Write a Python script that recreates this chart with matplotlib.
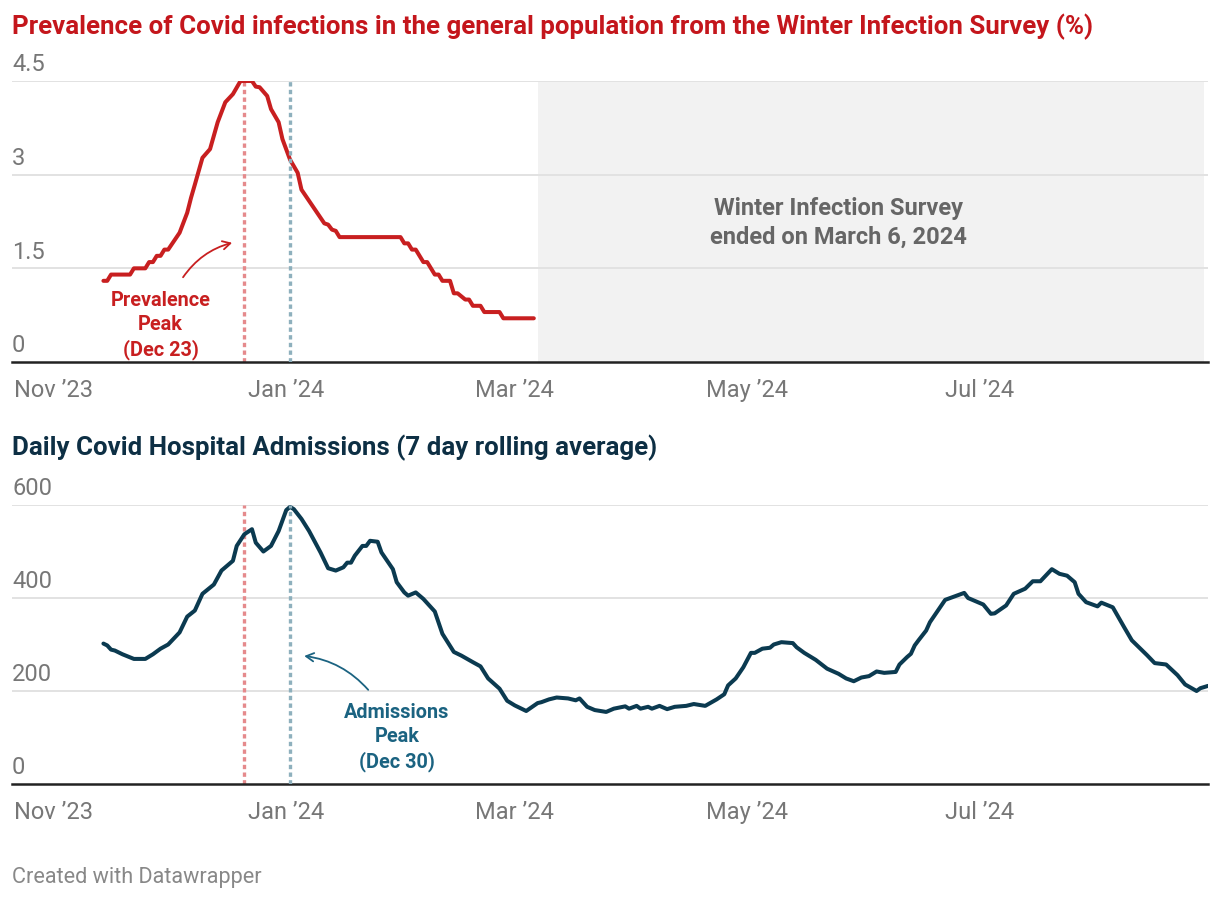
import pandas as pd
import matplotlib
matplotlib.use("Agg")
import matplotlib.pyplot as plt

plt.rcParams['font.family'] = ['Roboto', 'DejaVu Sans']

# Winter Infection Survey prevalence (%)
prev_dates = ["2023-11-14", "2023-11-15", "2023-11-16", "2023-11-21", "2023-11-22", "2023-11-25",
              "2023-11-26", "2023-11-27", "2023-11-28", "2023-11-29", "2023-11-30", "2023-12-01",
              "2023-12-04", "2023-12-06", "2023-12-07", "2023-12-08", "2023-12-10", "2023-12-12",
              "2023-12-14", "2023-12-16", "2023-12-18", "2023-12-20", "2023-12-23", "2023-12-24",
              "2023-12-25", "2023-12-27", "2023-12-28", "2023-12-30", "2023-12-31", "2024-01-02",
              "2024-01-04", "2024-01-05", "2024-01-11", "2024-01-12", "2024-01-13", "2024-01-14",
              "2024-01-15", "2024-01-31", "2024-02-01", "2024-02-02", "2024-02-03", "2024-02-04",
              "2024-02-06", "2024-02-07", "2024-02-09", "2024-02-10", "2024-02-11", "2024-02-13",
              "2024-02-14", "2024-02-15", "2024-02-17", "2024-02-18", "2024-02-19", "2024-02-21",
              "2024-02-22", "2024-02-26", "2024-02-27", "2024-03-06"]
prev_values = [1.3, 1.3, 1.4, 1.4, 1.5, 1.5, 1.6, 1.6, 1.7, 1.7, 1.8, 1.8,
               2.07, 2.39, 2.63, 2.84, 3.27, 3.41, 3.84, 4.16, 4.29, 4.5, 4.5, 4.41,
               4.4, 4.26, 4.05, 3.84, 3.57, 3.24, 3.03, 2.76, 2.22, 2.2, 2.12, 2.1,
               2.0, 2.0, 1.9, 1.9, 1.8, 1.8, 1.6, 1.6, 1.4, 1.4, 1.3, 1.3,
               1.1, 1.1, 1.0, 1.0, 0.9, 0.9, 0.8, 0.8, 0.7, 0.7]

# Daily hospital admissions, 7 day rolling average
adm_dates = ["2023-11-14", "2023-11-15", "2023-11-16", "2023-11-17", "2023-11-19", "2023-11-22",
             "2023-11-25", "2023-11-27", "2023-11-29", "2023-12-01", "2023-12-04", "2023-12-06",
             "2023-12-08", "2023-12-10", "2023-12-13", "2023-12-15", "2023-12-18", "2023-12-19",
             "2023-12-21", "2023-12-23", "2023-12-24", "2023-12-26", "2023-12-28", "2023-12-30",
             "2024-01-01", "2024-01-02", "2024-01-03", "2024-01-05", "2024-01-07", "2024-01-10",
             "2024-01-12", "2024-01-14", "2024-01-16", "2024-01-17", "2024-01-18", "2024-01-19",
             "2024-01-21", "2024-01-22", "2024-01-23", "2024-01-25", "2024-01-26", "2024-01-29",
             "2024-01-30", "2024-02-01", "2024-02-02", "2024-02-04", "2024-02-06", "2024-02-09",
             "2024-02-11", "2024-02-14", "2024-02-16", "2024-02-19", "2024-02-21", "2024-02-23",
             "2024-02-26", "2024-02-28", "2024-03-01", "2024-03-04", "2024-03-07", "2024-03-08",
             "2024-03-10", "2024-03-12", "2024-03-15", "2024-03-17", "2024-03-18", "2024-03-20",
             "2024-03-22", "2024-03-25", "2024-03-27", "2024-03-30", "2024-03-31", "2024-04-02",
             "2024-04-03", "2024-04-05", "2024-04-06", "2024-04-08", "2024-04-10", "2024-04-12",
             "2024-04-15", "2024-04-17", "2024-04-20", "2024-04-23", "2024-04-25", "2024-04-26",
             "2024-04-28", "2024-04-30", "2024-05-02", "2024-05-03", "2024-05-05", "2024-05-07",
             "2024-05-08", "2024-05-10", "2024-05-13", "2024-05-14", "2024-05-16", "2024-05-19",
             "2024-05-22", "2024-05-25", "2024-05-27", "2024-05-29", "2024-05-31", "2024-06-02",
             "2024-06-04", "2024-06-06", "2024-06-09", "2024-06-10", "2024-06-12", "2024-06-13",
             "2024-06-14", "2024-06-15", "2024-06-17", "2024-06-18", "2024-06-21", "2024-06-22",
             "2024-06-25", "2024-06-27", "2024-06-28", "2024-07-02", "2024-07-04", "2024-07-05",
             "2024-07-08", "2024-07-10", "2024-07-13", "2024-07-15", "2024-07-17", "2024-07-20",
             "2024-07-22", "2024-07-24", "2024-07-26", "2024-07-27", "2024-07-29", "2024-08-01",
             "2024-08-02", "2024-08-05", "2024-08-08", "2024-08-10", "2024-08-14", "2024-08-16",
             "2024-08-19", "2024-08-22", "2024-08-24", "2024-08-27", "2024-08-28", "2024-08-30"]
adm_values = [302, 298, 289, 287, 279, 269, 269, 279, 291, 300, 326, 360,
              373, 409, 429, 459, 480, 512, 537, 548, 519, 500, 512, 544,
              589, 596, 591, 570, 544, 498, 464, 459, 466, 476, 476, 491,
              512, 512, 523, 521, 498, 462, 434, 412, 405, 412, 398, 371,
              323, 284, 276, 262, 253, 227, 205, 179, 169, 157, 174, 176,
              182, 186, 184, 180, 184, 166, 159, 155, 162, 167, 162, 168,
              162, 166, 162, 168, 161, 166, 168, 172, 168, 182, 193, 212,
              227, 251, 282, 282, 291, 293, 300, 305, 303, 294, 282, 267,
              248, 237, 227, 221, 229, 232, 242, 239, 241, 257, 273, 280,
              298, 309, 330, 348, 384, 396, 405, 411, 400, 386, 366, 367,
              384, 409, 420, 436, 436, 462, 452, 448, 434, 409, 391, 382,
              390, 380, 337, 309, 277, 260, 257, 234, 214, 200, 206, 211]

month_ticks = ["2023-11-01", "2024-01-01", "2024-03-01", "2024-05-01", "2024-07-01"]
month_labels = ["Nov \u201923", "Jan \u201924", "Mar \u201924", "May \u201924", "Jul \u201924"]
prev_yticks = [0, 1.5, 3, 4.5]
prev_ylabels = ["0", "1.5", "3", "4.5"]
adm_yticks = [0, 200, 400, 600]
adm_ylabels = ["0", "200", "400", "600"]

prev_peak = "2023-12-21"
adm_peak = "2024-01-02"
survey_end = ("2024-03-07", "2024-08-29")
x_range = ("2023-10-21", "2024-08-30")

RED = "#c81f20"
NAVY = "#0b3a50"
TEAL = "#1b6381"
GRAY_TXT = "#777777"

fig = plt.figure(figsize=(12.2, 9), dpi=100)
W, H = 1220, 900
ax1 = fig.add_axes([12 / W, 1 - 362 / H, 1196 / W, 281 / H])
ax2 = fig.add_axes([12 / W, 1 - 784 / H, 1196 / W, 279 / H])


def style_axis(ax, yticks, ylabels, ymax):
    ax.set_xlim(pd.to_datetime(x_range[0]), pd.to_datetime(x_range[1]))
    ax.set_ylim(0, ymax)
    for s in ["top", "left", "right"]:
        ax.spines[s].set_visible(False)
    ax.spines["bottom"].set_color("#222222")
    ax.spines["bottom"].set_linewidth(1.8)
    ax.set_yticks([])
    for v, lab in zip(yticks, ylabels):
        if v > 0:
            ax.axhline(v, color="#e2e2e2", lw=1.4, zorder=1)
        ax.annotate(lab, xy=(0, v), xycoords=("axes fraction", "data"),
                    xytext=(0, 7), textcoords="offset points",
                    ha="left", va="baseline", fontsize=17, color=GRAY_TXT)
    ax.set_xticks(pd.to_datetime(month_ticks))
    ax.set_xticklabels(month_labels)
    ax.tick_params(axis="x", length=0, pad=12, labelsize=17, labelcolor=GRAY_TXT)


def peak_lines(ax):
    ax.axvline(pd.to_datetime(prev_peak), color="#e58a8c", lw=2.4,
               linestyle=(0, (1.3, 1.0)), zorder=2)
    ax.axvline(pd.to_datetime(adm_peak), color="#8eb0bd", lw=2.4,
               linestyle=(0, (1.3, 1.0)), zorder=4)


# top panel
style_axis(ax1, prev_yticks, prev_ylabels, 4.5)
ax1.axvspan(pd.to_datetime(survey_end[0]), pd.to_datetime(survey_end[1]),
            color="#f2f2f2", lw=0, zorder=0)
peak_lines(ax1)
ax1.plot(pd.to_datetime(prev_dates), prev_values, color=RED, lw=2.9,
         solid_joinstyle="round", solid_capstyle="round", zorder=3)
ax1.text(pd.to_datetime("2024-05-25"), 2.23, "Winter Infection Survey\nended on March 6, 2024",
         ha="center", va="center", fontsize=17, fontweight="bold", color="#666666",
         linespacing=1.3)
ax1.text(pd.to_datetime("2023-11-29"), 0.59, "Prevalence\nPeak\n(Dec 23)",
         ha="center", va="center", fontsize=14.3, fontweight="bold", color=RED,
         linespacing=1.33)
ax1.annotate("", xy=(pd.to_datetime("2023-12-18 12:00"), 1.92),
             xytext=(pd.to_datetime("2023-12-04 12:00"), 1.32),
             arrowprops=dict(arrowstyle="->,head_length=0.55,head_width=0.3",
                             color=RED, lw=1.3, connectionstyle="arc3,rad=-0.2"))

# bottom panel
style_axis(ax2, adm_yticks, adm_ylabels, 600)
peak_lines(ax2)
ax2.plot(pd.to_datetime(adm_dates), adm_values, color=NAVY, lw=2.9,
         solid_joinstyle="round", solid_capstyle="round", zorder=3)
ax2.text(pd.to_datetime("2024-01-30"), 101, "Admissions\nPeak\n(Dec 30)",
         ha="center", va="center", fontsize=14.3, fontweight="bold", color=TEAL,
         linespacing=1.33)
ax2.annotate("", xy=(pd.to_datetime("2024-01-05"), 276),
             xytext=(pd.to_datetime("2024-01-23"), 198),
             arrowprops=dict(arrowstyle="->,head_length=0.55,head_width=0.3",
                             color=TEAL, lw=1.3, connectionstyle="arc3,rad=0.2"))

# titles and footer
fig.text(12 / W, 1 - 27 / H,
         "Prevalence of Covid infections in the general population from the Winter Infection Survey (%)",
         ha="left", va="center", fontsize=18.6, fontweight="bold", color="#c4161c")
fig.text(12 / W, 1 - 448 / H, "Daily Covid Hospital Admissions (7 day rolling average)",
         ha="left", va="center", fontsize=18.6, fontweight="bold", color="#0d2f44")
fig.text(12 / W, 1 - 877 / H, "Created with Datawrapper",
         ha="left", va="center", fontsize=15.6, color="#888888")

fig.savefig("out.png", dpi=100)
